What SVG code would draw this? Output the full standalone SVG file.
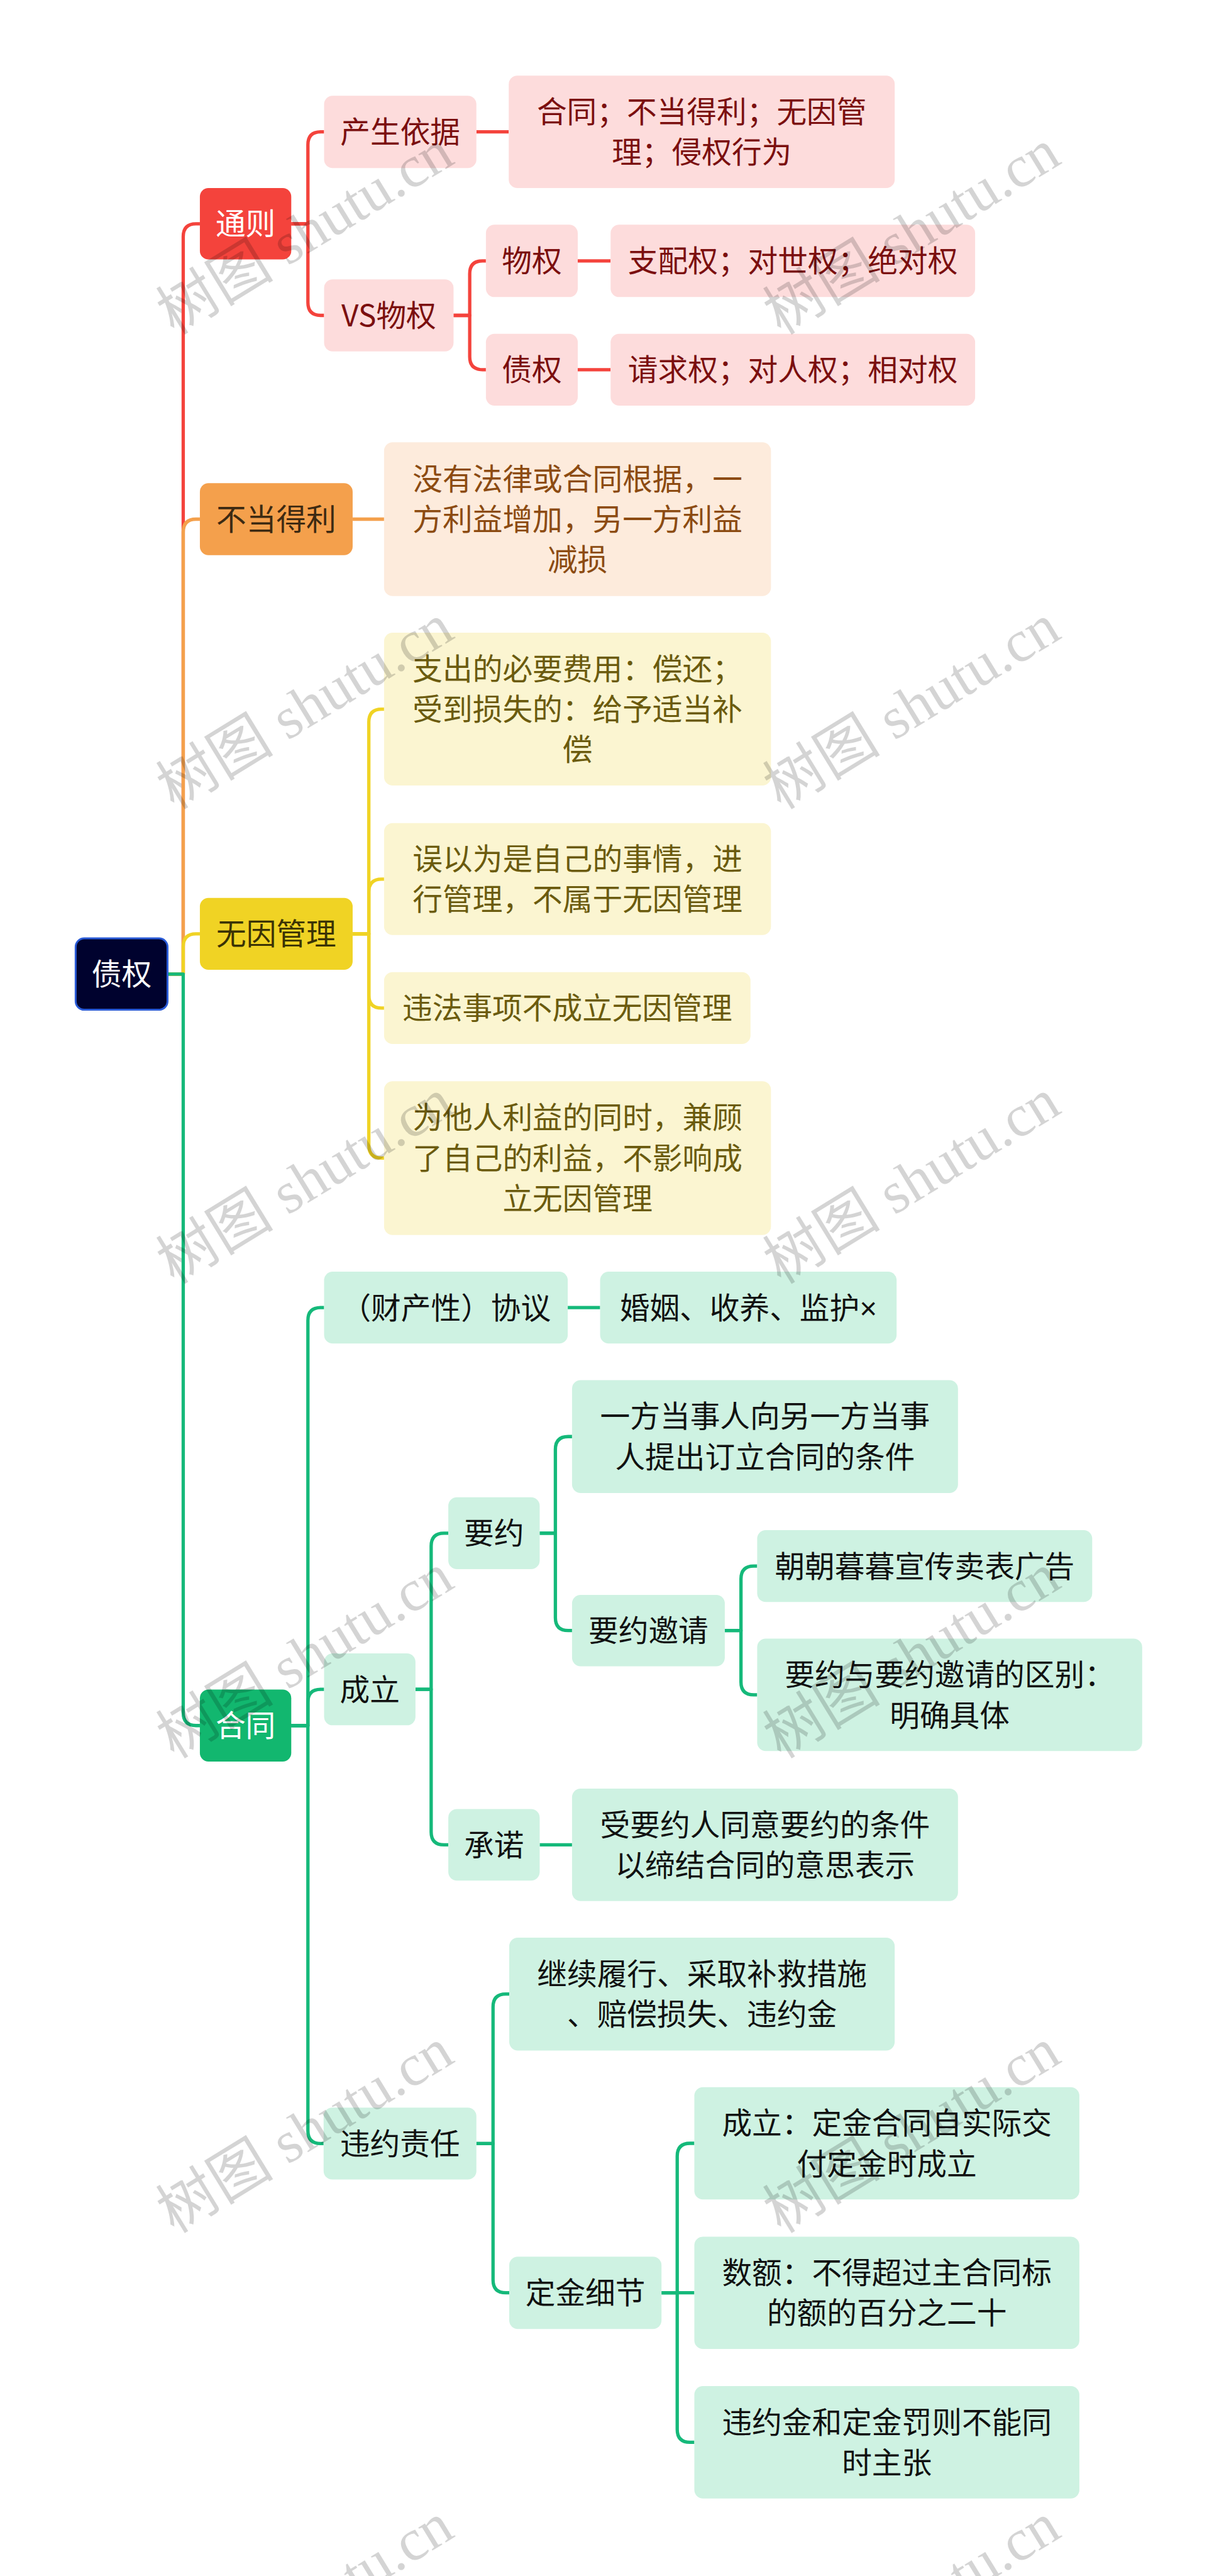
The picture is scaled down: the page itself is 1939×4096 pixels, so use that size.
<svg xmlns="http://www.w3.org/2000/svg" width="1939" height="4096" viewBox="0 0 1939 4096">
<style>
.t{font-family:"Noto Sans CJK SC","Noto Sans",sans-serif;font-size:63px;text-anchor:middle}
.c{fill:none;stroke-width:7;stroke-linejoin:round}
.cr{stroke:#F4433C}.co{stroke:#F4A04C}.cy{stroke:#F0D324}.cg{stroke:#15B97A}
.pk{fill:#FDDCDC}.tpk{fill:#7B0F0F}
.pe{fill:#FDEBDC}.tpe{fill:#8C4B12}
.ly{fill:#FBF5D1}.tly{fill:#6B5B0E}
.lg{fill:#CEF2E2}.tlg{fill:#111111}
.w{fill:#FFFFFF}
.wm{font-family:"Liberation Serif","Noto Sans CJK SC",serif;font-size:124px;fill:#000;fill-opacity:0.17}
</style>
<rect x="0" y="0" width="1939" height="4096" fill="#FFFFFF"/>
<g transform="scale(0.757)">
<g id="connectors">
<path class="c cr" d="M352,2046 H385 V497 Q385,470 412,470 H420"/>
<path class="c cr" d="M612,470 H647 V304 Q647,277 674,277 H681"/>
<path class="c cr" d="M612,470 H647 V635.5 Q647,662.5 674,662.5 H681"/>
<path class="c cr" d="M1001,277 H1069"/>
<path class="c cr" d="M953,662.5 H987 V575 Q987,548 1014,548 H1021"/>
<path class="c cr" d="M953,662.5 H987 V749.5 Q987,776.5 1014,776.5 H1021"/>
<path class="c cr" d="M1214,548 H1283"/>
<path class="c cr" d="M1214,776.5 H1283"/>
<path class="c co" d="M352,2046 H385 V1117.5 Q385,1090.5 412,1090.5 H420"/>
<path class="c co" d="M741,1090.5 H807"/>
<path class="c cy" d="M352,2046 H385 V1988.5 Q385,1961.5 412,1961.5 H420"/>
<path class="c cy" d="M741,1961.5 H775 V1516.5 Q775,1489.5 802,1489.5 H807"/>
<path class="c cy" d="M741,1961.5 H775 V1873.5 Q775,1846.5 802,1846.5 H807"/>
<path class="c cy" d="M741,1961.5 H775 V2090.5 Q775,2117.5 802,2117.5 H807"/>
<path class="c cy" d="M741,1961.5 H775 V2405.5 Q775,2432.5 802,2432.5 H807"/>
<path class="c cg" d="M352,2046 H385 V3597.5 Q385,3624.5 412,3624.5 H420"/>
<path class="c cg" d="M612,3624.5 H647 V2773.5 Q647,2746.5 674,2746.5 H681"/>
<path class="c cg" d="M612,3624.5 H647 V3575.5 Q647,3548.5 674,3548.5 H681"/>
<path class="c cg" d="M612,3624.5 H647 V4475.5 Q647,4502.5 674,4502.5 H680"/>
<path class="c cg" d="M1193,2746.5 H1261"/>
<path class="c cg" d="M873,3548.5 H906 V3247.5 Q906,3220.5 933,3220.5 H942"/>
<path class="c cg" d="M873,3548.5 H906 V3848 Q906,3875 933,3875 H942"/>
<path class="c cg" d="M1134,3220.5 H1167 V3044.5 Q1167,3017.5 1194,3017.5 H1202"/>
<path class="c cg" d="M1134,3220.5 H1167 V3398 Q1167,3425 1194,3425 H1202"/>
<path class="c cg" d="M1523,3425 H1557 V3316.5 Q1557,3289.5 1584,3289.5 H1591"/>
<path class="c cg" d="M1523,3425 H1557 V3533 Q1557,3560 1584,3560 H1591"/>
<path class="c cg" d="M1134,3875 H1202"/>
<path class="c cg" d="M1001,4502.5 H1036 V4215.5 Q1036,4188.5 1063,4188.5 H1070"/>
<path class="c cg" d="M1001,4502.5 H1036 V4789 Q1036,4816 1063,4816 H1070"/>
<path class="c cg" d="M1390,4816 H1423 V4529 Q1423,4502 1450,4502 H1459"/>
<path class="c cg" d="M1390,4816 H1459"/>
<path class="c cg" d="M1390,4816 H1423 V5103 Q1423,5130 1450,5130 H1459"/>
</g>

<g id="root"><rect x="159" y="1971" width="193" height="150" rx="18" fill="#00022E" stroke="#2A5BD7" stroke-width="4"/><text class="t w" x="255.5" y="2069">债权</text></g>

<g id="n1"><rect x="420" y="395" width="192" height="150" rx="18" fill="#F4433C"/><text class="t w" x="516" y="493">通则</text></g>
<g id="n1a"><rect class="pk" x="681" y="201" width="320" height="152" rx="18"/><text class="t tpk" x="841" y="300">产生依据</text></g>
<g id="n1a1"><rect class="pk" x="1069" y="159" width="811" height="236" rx="18"/><text class="t tpk"><tspan x="1474.5" y="257.5">合同；不当得利；无因管</tspan><tspan x="1474.5" y="342.5">理；侵权行为</tspan></text></g>
<g id="n1b"><rect class="pk" x="681" y="587" width="272" height="151" rx="18"/><text class="t tpk" x="817" y="685.5">VS物权</text></g>
<g id="n1b1"><rect class="pk" x="1021" y="472" width="193" height="152" rx="18"/><text class="t tpk" x="1117.5" y="571">物权</text></g>
<g id="n1b1a"><rect class="pk" x="1283" y="472" width="766" height="152" rx="18"/><text class="t tpk" x="1666" y="571">支配权；对世权；绝对权</text></g>
<g id="n1b2"><rect class="pk" x="1021" y="701" width="193" height="151" rx="18"/><text class="t tpk" x="1117.5" y="799.5">债权</text></g>
<g id="n1b2a"><rect class="pk" x="1283" y="701" width="766" height="151" rx="18"/><text class="t tpk" x="1666" y="799.5">请求权；对人权；相对权</text></g>

<g id="n2"><rect x="420" y="1015" width="321" height="151" rx="18" fill="#F4A04C"/><text class="t" fill="#3D2A12" x="580.5" y="1113.5">不当得利</text></g>
<g id="n2a"><rect class="pe" x="807" y="929" width="813" height="323" rx="18"/><text class="t tpe"><tspan x="1213.5" y="1028.5">没有法律或合同根据，一</tspan><tspan x="1213.5" y="1113.5">方利益增加，另一方利益</tspan><tspan x="1213.5" y="1198.5">减损</tspan></text></g>

<g id="n3"><rect x="420" y="1886" width="321" height="151" rx="18" fill="#F0D324"/><text class="t" fill="#3B3305" x="580.5" y="1984.5">无因管理</text></g>
<g id="n3a"><rect class="ly" x="807" y="1329" width="813" height="321" rx="18"/><text class="t tly"><tspan x="1213.5" y="1427.5">支出的必要费用：偿还；</tspan><tspan x="1213.5" y="1512.5">受到损失的：给予适当补</tspan><tspan x="1213.5" y="1597.5">偿</tspan></text></g>
<g id="n3b"><rect class="ly" x="807" y="1729" width="813" height="235" rx="18"/><text class="t tly"><tspan x="1213.5" y="1827">误以为是自己的事情，进</tspan><tspan x="1213.5" y="1912">行管理，不属于无因管理</tspan></text></g>
<g id="n3c"><rect class="ly" x="807" y="2042" width="770" height="151" rx="18"/><text class="t tly" x="1192" y="2140.5">违法事项不成立无因管理</text></g>
<g id="n3d"><rect class="ly" x="807" y="2271" width="813" height="323" rx="18"/><text class="t tly"><tspan x="1213.5" y="2370.5">为他人利益的同时，兼顾</tspan><tspan x="1213.5" y="2455.5">了自己的利益，不影响成</tspan><tspan x="1213.5" y="2540.5">立无因管理</tspan></text></g>

<g id="n4"><rect x="420" y="3549" width="192" height="151" rx="18" fill="#12B76F"/><text class="t w" x="516" y="3647.5">合同</text></g>
<g id="n4a"><rect class="lg" x="681" y="2671" width="512" height="151" rx="18"/><text class="t tlg" x="937" y="2769.5">（财产性）协议</text></g>
<g id="n4a1"><rect class="lg" x="1261" y="2671" width="623" height="151" rx="18"/><text class="t tlg" x="1572.5" y="2769.5">婚姻、收养、监护<tspan font-family="Liberation Sans, sans-serif">×</tspan></text></g>
<g id="n4b"><rect class="lg" x="681" y="3473" width="192" height="151" rx="18"/><text class="t tlg" x="777" y="3571.5">成立</text></g>
<g id="n4b1"><rect class="lg" x="942" y="3145" width="192" height="151" rx="18"/><text class="t tlg" x="1038" y="3243.5">要约</text></g>
<g id="n4b1a"><rect class="lg" x="1202" y="2899" width="811" height="237" rx="18"/><text class="t tlg"><tspan x="1607.5" y="2998">一方当事人向另一方当事</tspan><tspan x="1607.5" y="3083">人提出订立合同的条件</tspan></text></g>
<g id="n4b1b"><rect class="lg" x="1202" y="3350" width="321" height="150" rx="18"/><text class="t tlg" x="1362.5" y="3448">要约邀请</text></g>
<g id="n4b1b1"><rect class="lg" x="1591" y="3214" width="704" height="151" rx="18"/><text class="t tlg" x="1943" y="3312.5">朝朝暮暮宣传卖表广告</text></g>
<g id="n4b1b2"><rect class="lg" x="1591" y="3442" width="809" height="236" rx="18"/><text class="t tlg"><tspan x="1995.5" y="3540.5">要约与要约邀请的区别：</tspan><tspan x="1995.5" y="3625.5">明确具体</tspan></text></g>
<g id="n4b2"><rect class="lg" x="942" y="3800" width="192" height="150" rx="18"/><text class="t tlg" x="1038" y="3898">承诺</text></g>
<g id="n4b2a"><rect class="lg" x="1202" y="3757" width="811" height="236" rx="18"/><text class="t tlg"><tspan x="1607.5" y="3855.5">受要约人同意要约的条件</tspan><tspan x="1607.5" y="3940.5">以缔结合同的意思表示</tspan></text></g>
<g id="n4c"><rect class="lg" x="680" y="4427" width="321" height="151" rx="18"/><text class="t tlg" x="840.5" y="4525.5">违约责任</text></g>
<g id="n4c1"><rect class="lg" x="1070" y="4070" width="810" height="237" rx="18"/><text class="t tlg"><tspan x="1475" y="4169">继续履行、采取补救措施</tspan><tspan x="1475" y="4254">、赔偿损失、违约金</tspan></text></g>
<g id="n4c2"><rect class="lg" x="1070" y="4740" width="320" height="152" rx="18"/><text class="t tlg" x="1230" y="4839">定金细节</text></g>
<g id="n4c2a"><rect class="lg" x="1459" y="4384" width="809" height="236" rx="18"/><text class="t tlg"><tspan x="1863.5" y="4482.5">成立：定金合同自实际交</tspan><tspan x="1863.5" y="4567.5">付定金时成立</tspan></text></g>
<g id="n4c2b"><rect class="lg" x="1459" y="4698" width="809" height="236" rx="18"/><text class="t tlg"><tspan x="1863.5" y="4796.5">数额：不得超过主合同标</tspan><tspan x="1863.5" y="4881.5">的额的百分之二十</tspan></text></g>
<g id="n4c2c"><rect class="lg" x="1459" y="5012" width="809" height="236" rx="18"/><text class="t tlg"><tspan x="1863.5" y="5110.5">违约金和定金罚则不能同</tspan><tspan x="1863.5" y="5195.5">时主张</tspan></text></g>

<g id="watermarks">
<text class="wm" transform="translate(366,705) rotate(-31.5)">树图 shutu.cn</text>
<text class="wm" transform="translate(1641,705) rotate(-31.5)">树图 shutu.cn</text>
<text class="wm" transform="translate(366,1702) rotate(-31.5)">树图 shutu.cn</text>
<text class="wm" transform="translate(1641,1702) rotate(-31.5)">树图 shutu.cn</text>
<text class="wm" transform="translate(366,2699) rotate(-31.5)">树图 shutu.cn</text>
<text class="wm" transform="translate(1641,2699) rotate(-31.5)">树图 shutu.cn</text>
<text class="wm" transform="translate(366,3696) rotate(-31.5)">树图 shutu.cn</text>
<text class="wm" transform="translate(1641,3696) rotate(-31.5)">树图 shutu.cn</text>
<text class="wm" transform="translate(366,4693) rotate(-31.5)">树图 shutu.cn</text>
<text class="wm" transform="translate(1641,4693) rotate(-31.5)">树图 shutu.cn</text>
<text class="wm" transform="translate(366,5690) rotate(-31.5)">树图 shutu.cn</text>
<text class="wm" transform="translate(1641,5690) rotate(-31.5)">树图 shutu.cn</text>
</g>
</g>
</svg>
